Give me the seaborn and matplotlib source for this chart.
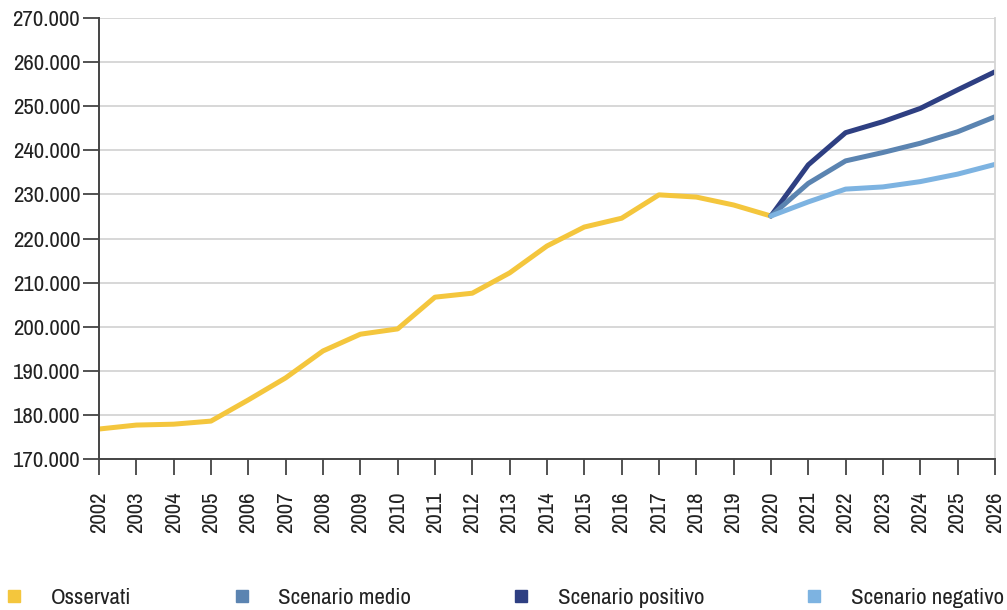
import matplotlib
matplotlib.use("Agg")
import matplotlib.pyplot as plt
from matplotlib.ticker import FuncFormatter
from matplotlib.lines import Line2D
import pandas as pd
import seaborn as sns

# dati
anni_oss = list(range(2002, 2021))
osservati = [176800, 177700, 177900, 178600, 183400, 188400, 194500, 198300, 199500,
             206700, 207600, 212200, 218300, 222600, 224600, 229900, 229400, 227600, 225100]
anni_prev = list(range(2020, 2027))
scen_medio = [225100, 232500, 237600, 239500, 241600, 244200, 247600]
scen_positivo = [225100, 236700, 244000, 246500, 249500, 253700, 257800]
scen_negativo = [225100, 228300, 231200, 231700, 232900, 234600, 236800]

serie = ["Osservati", "Scenario medio", "Scenario positivo", "Scenario negativo"]
colori = ["#F4C63D", "#5B84B1", "#2E3F82", "#7DB3E1"]

df = pd.concat([
    pd.DataFrame({"anno": anni_oss, "valore": osservati, "serie": serie[0]}),
    pd.DataFrame({"anno": anni_prev, "valore": scen_medio, "serie": serie[1]}),
    pd.DataFrame({"anno": anni_prev, "valore": scen_positivo, "serie": serie[2]}),
    pd.DataFrame({"anno": anni_prev, "valore": scen_negativo, "serie": serie[3]}),
])

sns.set_style("white")
plt.rcParams['font.family'] = ['Archivo Narrow', 'DejaVu Sans']

fig = plt.figure(figsize=(10.07, 6.10), dpi=100)
ax = fig.add_axes([0.0983, 0.2475, 0.8897, 0.7230])

ordine = [serie[0], serie[2], serie[1], serie[3]]
sns.lineplot(data=df, x="anno", y="valore", hue="serie", hue_order=ordine,
             palette=dict(zip(serie, colori)), linewidth=3.6, legend=False, ax=ax)

ax.set_xlim(2002, 2026)
ax.set_ylim(170000, 270000)
ax.set_xticks(range(2002, 2027))
ax.set_yticks(range(170000, 270001, 10000))
ax.yaxis.set_major_formatter(FuncFormatter(lambda v, p: f"{v:,.0f}".replace(",", ".")))
ax.tick_params(axis="x", rotation=90, labelsize=16.5, length=11.5, width=1.3, pad=12,
               color="#444444", labelcolor="#222222")
ax.tick_params(axis="y", labelsize=16.5, length=11.5, width=1.3, pad=2,
               color="#444444", labelcolor="#222222")
ax.tick_params(axis="both", direction="out", bottom=True, left=True)
ax.set_xlabel("")
ax.set_ylabel("")
ax.yaxis.grid(True, color="#d4d4d4", linewidth=1.3)
ax.set_axisbelow(True)
ax.spines["top"].set_visible(False)
ax.spines["right"].set_color("#d4d4d4")
ax.spines["right"].set_linewidth(1.3)
for s in ["left", "bottom"]:
    ax.spines[s].set_color("#444444")
    ax.spines[s].set_linewidth(1.4)

handles = [Line2D([], [], marker="s", linestyle="", markersize=9, color=c) for c in colori]
fig.legend(handles, serie, loc="lower left", bbox_to_anchor=(0.003, 0.003), ncol=4,
           frameon=False, fontsize=16.5, handletextpad=1.1, columnspacing=4.3,
           handlelength=1.0, borderpad=0, borderaxespad=0, labelcolor="#222222")

fig.savefig("out.png", dpi=100)
